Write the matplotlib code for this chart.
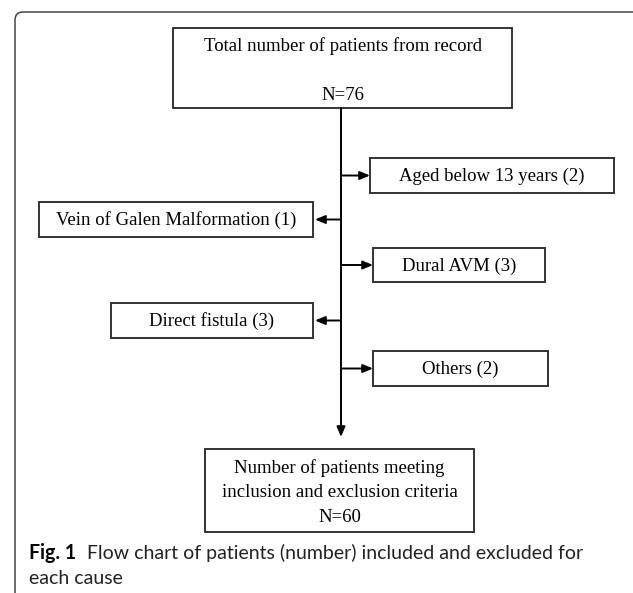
import matplotlib.pyplot as plt
from matplotlib.patches import Rectangle, FancyBboxPatch

# flow chart content
total_n = 76
final_n = 60
excl_labels = ['Aged below 13 years', 'Vein of Galen Malformation', 'Dural AVM',
               'Direct fistula', 'Others']
excl_counts = [2, 1, 3, 3, 2]
caption_bold = 'Fig. 1'
caption_text = 'Flow chart of patients (number) included and excluded for'
caption_text2 = 'each cause'

# layout (pixels, y grows downward)
trunk_x = 341
# (left, right, top, bottom) of each exclusion box
excl_boxes = [(370, 614, 158, 193), (39, 313, 202, 237), (373, 545, 248, 282),
              (111, 313, 303, 338), (373, 548, 351, 386)]
top_box = (173, 512, 28, 108)
bot_box = (205, 474, 449, 532)

serif = 'Liberation Serif'
fs = 13.5
edge = '#333333'

fig = plt.figure(figsize=(6.33, 5.93), dpi=100)
ax = fig.add_axes([0, 0, 1, 1])
ax.set_xlim(0, 633)
ax.set_ylim(593, 0)
ax.axis('off')

# outer frame, only the top-left corner is visible
frame = FancyBboxPatch((15, 12), 640, 620, boxstyle='round,pad=0,rounding_size=8',
                       fill=False, ec='#444444', lw=1.1)
ax.add_patch(frame)

def box(b, text, lsp=1.58, dy=1):
    l, r, t, btm = b
    ax.add_patch(Rectangle((l, t), r - l, btm - t, fill=False, ec=edge, lw=1.4))
    ax.text((l + r) / 2, (t + btm) / 2 + dy, text, ha='center', va='center',
            family=serif, fontsize=fs, linespacing=lsp)

box(top_box, 'Total number of patients from record\n\nN=%d' % total_n, dy=3)
box(bot_box, 'Number of patients meeting\ninclusion and exclusion criteria\nN=%d' % final_n, dy=2)

# main trunk with arrow into the final box
arrow = dict(arrowstyle='-|>,head_length=0.6,head_width=0.25', color='black',
             lw=1.4, shrinkA=0, shrinkB=0)
ax.annotate('', xy=(trunk_x, bot_box[2] - 12), xytext=(trunk_x, top_box[3]),
            arrowprops=arrow)

for lab, n, b in zip(excl_labels, excl_counts, excl_boxes):
    box(b, '%s (%d)' % (lab, n))
    ymid = (b[2] + b[3]) / 2
    tip = b[0] if b[0] > trunk_x else b[1] + 2
    ax.annotate('', xy=(tip, ymid), xytext=(trunk_x, ymid), arrowprops=arrow)

# caption: bold figure number, then the text; sized so the first line ends at x~586
cap_font = 'Lato'
cap_x0, cap_x1 = 29, 586
t1 = ax.text(cap_x0, 559, caption_bold, family=cap_font, fontweight='bold',
             fontsize=14, va='baseline', ha='left')
t2 = ax.text(0, 559, caption_text, family=cap_font, fontsize=14,
             va='baseline', ha='left', color='#222222')
t3 = ax.text(cap_x0, 584, caption_text2, family=cap_font, fontsize=14,
             va='baseline', ha='left', color='#222222')
r = fig.canvas.get_renderer()
w1 = t1.get_window_extent(r).width
w2 = t2.get_window_extent(r).width
gap = 0.55 * 14 * 100 / 72
scale = (cap_x1 - cap_x0) / (w1 + gap + w2)
cap_fs = 14 * scale
for t in (t1, t2, t3):
    t.set_fontsize(cap_fs)
t2.set_x(cap_x0 + (w1 + gap) * scale)

fig.savefig('out.png', dpi=100)
